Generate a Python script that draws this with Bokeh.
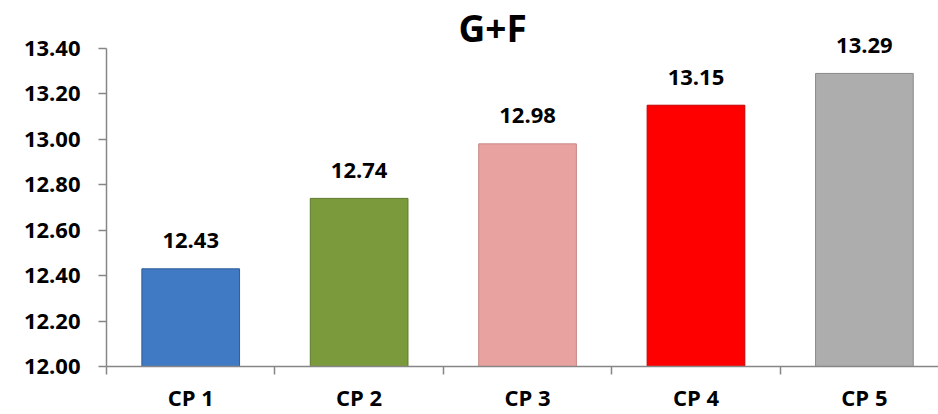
from bokeh.plotting import figure
from bokeh.models import ColumnDataSource, FixedTicker, Range1d, Label, LabelSet
from bokeh.core.properties import value
from bokeh.embed import file_html
from bokeh.resources import INLINE

title_text = "G+F"
categories = ["CP 1", "CP 2", "CP 3", "CP 4", "CP 5"]
values = [12.43, 12.74, 12.98, 13.15, 13.29]
labels = ["12.43", "12.74", "12.98", "13.15", "13.29"]
colors = ["#4079c4", "#7a9a3c", "#e8a2a0", "#fe0000", "#adadad"]
edges = ["#2f5c96", "#5e7a2b", "#c98886", "#c40000", "#8a8a8a"]
y_ticks = [12.00, 12.20, 12.40, 12.60, 12.80, 13.00, 13.20, 13.40]

centers = [i + 0.5 for i in range(len(categories))]
src = ColumnDataSource(dict(x=centers, top=values, label=labels, color=colors, edge=edges))

FONT = "Open Sans"

p = figure(width=938, height=414, output_backend="svg", toolbar_location=None,
           title=None,
           x_range=Range1d(0, 4.94), y_range=Range1d(12.0, 13.611),
           min_border_left=106, min_border_right=0, min_border_top=0, min_border_bottom=47)

p.vbar(x="x", top="top", bottom=12.0, width=0.58, source=src,
       fill_color="color", line_color="edge", line_width=1)

lbl = LabelSet(x="x", y="top", text="label", source=src, text_font=value(FONT),
               text_font_style="bold", text_font_size="22px", text_align="center",
               text_baseline="middle", y_offset=28, text_color="#000000")
p.add_layout(lbl)

# chart title, placed at the top centre of the plot area
ttl = Label(x=2.293, y=13.494, text=title_text, text_font=FONT, text_font_style="bold",
            text_font_size="37px", text_align="center", text_baseline="middle",
            text_color="#000000")
p.add_layout(ttl)

p.grid.visible = False
p.outline_line_color = None
p.background_fill_color = "white"
p.border_fill_color = "white"

xa = p.xaxis[0]
xa.ticker = FixedTicker(ticks=centers, minor_ticks=list(range(len(categories) + 1)))
xa.major_label_overrides = {c: n for c, n in zip(centers, categories)}
xa.major_tick_line_color = None
xa.major_tick_out = 0
xa.major_tick_in = 0
xa.minor_tick_out = 8
xa.minor_tick_in = 0
xa.minor_tick_line_color = "#868686"
xa.minor_tick_line_width = 1.5
xa.axis_line_color = "#868686"
xa.axis_line_width = 1.5
xa.major_label_text_font = FONT
xa.major_label_text_font_style = "bold"
xa.major_label_text_font_size = "22px"
xa.major_label_text_color = "#000000"
xa.major_label_standoff = 7

ya = p.yaxis[0]
ya.ticker = FixedTicker(ticks=y_ticks)
ya.bounds = (12.0, 13.4)
ya.major_label_overrides = {v: f"{v:.2f}" for v in y_ticks}
ya.minor_tick_line_color = None
ya.major_tick_out = 8
ya.major_tick_in = 0
ya.major_tick_line_color = "#868686"
ya.major_tick_line_width = 1.5
ya.axis_line_color = "#868686"
ya.axis_line_width = 1.5
ya.major_label_text_font = FONT
ya.major_label_text_font_style = "bold"
ya.major_label_text_font_size = "22px"
ya.major_label_text_color = "#000000"
ya.major_label_standoff = 18

open("out.html", "w").write(file_html(p, INLINE))
